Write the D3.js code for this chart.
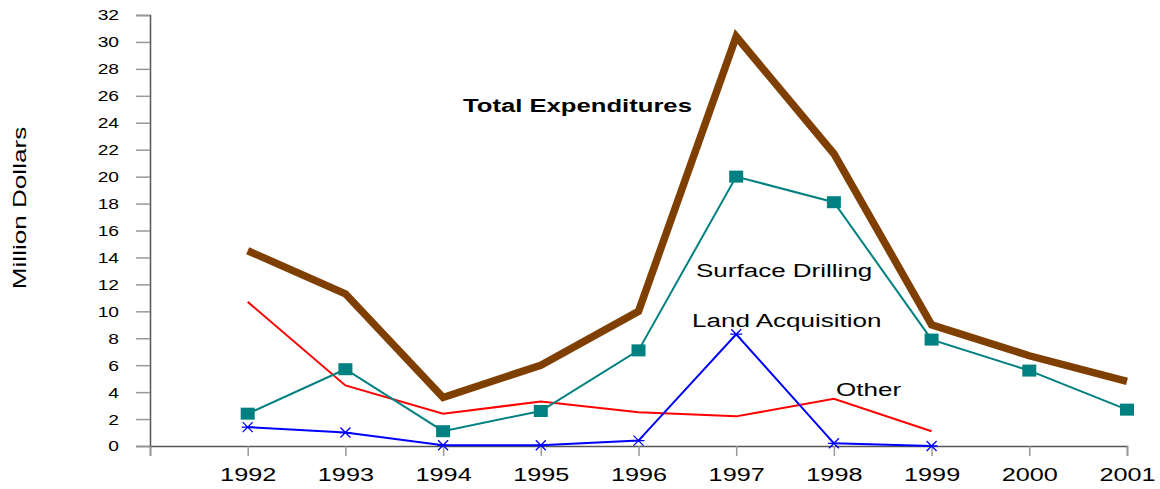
<!DOCTYPE html>
<html>
<head>
<meta charset="utf-8">
<script src="https://cdn.jsdelivr.net/npm/d3@7"></script>
<style>
body { margin: 0; background: #fff; }
text { font-family: "Liberation Sans", Arial, sans-serif; }
</style>
</head>
<body>
<script>
const width = 1160;
const height = 489;

// data
const years = [1992, 1993, 1994, 1995, 1996, 1997, 1998, 1999, 2000, 2001];
const total = [14.5, 11.3, 3.6, 6.0, 10.0, 30.4, 21.7, 9.0, 6.7, 4.8];
const surfaceDrilling = [2.4, 5.7, 1.1, 2.6, 7.1, 20.0, 18.1, 7.9, 5.6, 2.7];
const landAcquisition = [1.4, 1.0, 0.05, 0.05, 0.4, 8.3, 0.2, 0.0];
const other = [10.7, 4.5, 2.4, 3.3, 2.5, 2.2, 3.5, 1.1];
const yTicks = d3.range(0, 33, 2);

const svg = d3.select("body")
	.append("svg")
	.attr("width", width)
	.attr("height", height);

// x: one empty slot before 1992 so the axis starts at the y axis
const x = d3.scaleLinear()
	.domain([1991, 2001])
	.range([150, 1127]);

const y = d3.scaleLinear()
	.domain([0, 32])
	.range([446, 15]);

// y axis
const yAxis = svg.append("g")
	.attr("transform", "translate(150,0)")
	.call(d3.axisLeft(y).tickValues(yTicks).tickSize(14).tickPadding(17));
yAxis.select(".domain").attr("stroke", "#555").attr("stroke-width", 1.5);
yAxis.selectAll(".tick line").attr("stroke", "#999").attr("stroke-width", 1.5);
yAxis.selectAll(".tick text")
	.attr("font-size", 15.5)
	.attr("fill", "#000")
	.attr("x", -31 / 1.24)
	.attr("transform", "scale(1.24,1)");

// x axis
const xAxis = svg.append("g")
	.attr("transform", "translate(0,446)")
	.call(d3.axisBottom(x)
		.tickValues([1991].concat(years))
		.tickFormat(d => d === 1991 ? "" : d)
		.tickSize(10)
		.tickPadding(12));
xAxis.select(".domain").attr("stroke", "#555").attr("stroke-width", 1.5);
xAxis.selectAll(".tick line").attr("stroke", "#999").attr("stroke-width", 1.5);
xAxis.selectAll(".tick text")
	.attr("font-size", 19)
	.attr("fill", "#000")
	.attr("transform", "scale(1.33,1)");

// y title
svg.append("text")
	.attr("transform", "translate(26,208) rotate(-90) scale(1.45,1)")
	.attr("text-anchor", "middle")
	.attr("font-size", 18)
	.text("Million Dollars");

const line = d3.line()
	.x((d, i) => x(years[i]))
	.y(d => y(d));

svg.append("path")
	.datum(other)
	.attr("fill", "none")
	.attr("stroke", "#ff0000")
	.attr("stroke-width", 2)
	.attr("d", line);

svg.append("path")
	.datum(landAcquisition)
	.attr("fill", "none")
	.attr("stroke", "#0000ff")
	.attr("stroke-width", 2)
	.attr("d", line);

// star markers
svg.append("g").selectAll("path")
	.data(landAcquisition)
	.enter()
	.append("path")
	.attr("transform", (d, i) => `translate(${x(years[i])},${y(d)})`)
	.attr("stroke", "#0000ff")
	.attr("stroke-width", 1.3)
	.attr("d", "M-5,-5L5,5M-5,5L5,-5M-6,0L6,0");

svg.append("path")
	.datum(surfaceDrilling)
	.attr("fill", "none")
	.attr("stroke", "#008080")
	.attr("stroke-width", 2)
	.attr("d", line);

svg.append("g").selectAll("rect")
	.data(surfaceDrilling)
	.enter()
	.append("rect")
	.attr("x", (d, i) => x(years[i]) - 7)
	.attr("y", d => y(d) - 6)
	.attr("width", 14)
	.attr("height", 12)
	.attr("fill", "#008080");

svg.append("path")
	.datum(total)
	.attr("fill", "none")
	.attr("stroke", "#7f3f00")
	.attr("stroke-width", 7.5)
	.attr("d", line);

// series labels (the original text is drawn wide, so stretch it)
const labels = [
	{ text: "Total Expenditures", x: 463, y: 112, bold: true },
	{ text: "Surface Drilling", x: 696, y: 277, bold: false },
	{ text: "Land Acquisition", x: 692, y: 327, bold: false },
	{ text: "Other", x: 836, y: 396, bold: false }
];
svg.append("g").selectAll("text")
	.data(labels)
	.enter()
	.append("text")
	.attr("transform", d => `translate(${d.x},${d.y}) scale(${d.bold ? 1.35 : 1.37},1)`)
	.attr("font-size", 19)
	.attr("font-weight", d => d.bold ? "bold" : "normal")
	.text(d => d.text);
</script>
</body>
</html>
